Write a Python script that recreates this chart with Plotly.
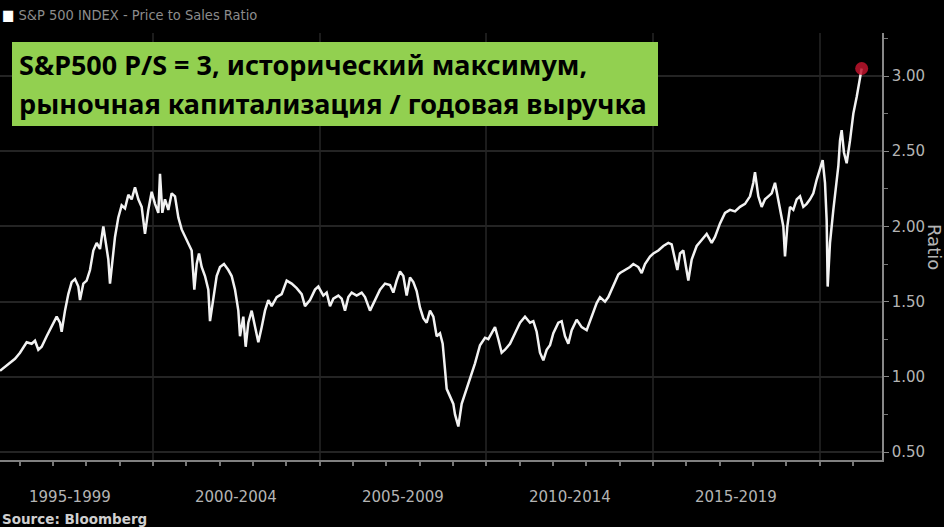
import plotly.graph_objects as go

# ---- data (decimal year, P/S ratio) ----
years = [1995.41, 1995.71, 1995.86, 1996.01, 1996.11, 1996.21, 1996.36, 1996.46, 1996.56, 1996.66,
         1996.81, 1996.96, 1997.11, 1997.21, 1997.26, 1997.36, 1997.46, 1997.56, 1997.66, 1997.76,
         1997.81, 1997.91, 1998.01, 1998.11, 1998.21, 1998.31, 1998.41, 1998.51, 1998.56, 1998.66,
         1998.71, 1998.79, 1998.86, 1998.96, 1999.06, 1999.16, 1999.26, 1999.36, 1999.46, 1999.56,
         1999.66, 1999.76, 1999.86, 1999.96, 2000.06, 2000.16, 2000.21, 2000.28, 2000.36, 2000.46,
         2000.56, 2000.66, 2000.76, 2000.86, 2000.96, 2001.06, 2001.16, 2001.24, 2001.31, 2001.38,
         2001.46, 2001.56, 2001.66, 2001.71, 2001.81, 2001.91, 2002.01, 2002.13, 2002.26, 2002.36,
         2002.46, 2002.56, 2002.61, 2002.71, 2002.78, 2002.86, 2002.96, 2003.06, 2003.16, 2003.26,
         2003.36, 2003.46, 2003.56, 2003.71, 2003.86, 2004.01, 2004.16, 2004.31, 2004.46, 2004.56,
         2004.71, 2004.86, 2004.96,
         2005.11, 2005.21, 2005.31, 2005.41, 2005.56, 2005.66, 2005.76, 2005.86, 2005.96, 2006.11,
         2006.26, 2006.36, 2006.51, 2006.66, 2006.81, 2006.96, 2007.11, 2007.21, 2007.31, 2007.41,
         2007.51, 2007.61, 2007.71, 2007.81, 2007.91, 2008.01, 2008.11, 2008.21, 2008.31, 2008.41,
         2008.51, 2008.61, 2008.69, 2008.76, 2008.81, 2008.91, 2009.01, 2009.06, 2009.16, 2009.26,
         2009.36, 2009.51, 2009.66, 2009.81, 2009.96, 2010.06, 2010.16, 2010.26, 2010.36, 2010.46,
         2010.56, 2010.71, 2010.86, 2011.01, 2011.16, 2011.31, 2011.41, 2011.51, 2011.61, 2011.71,
         2011.81, 2011.91, 2012.01, 2012.16, 2012.26, 2012.36, 2012.46, 2012.56, 2012.71, 2012.86,
         2013.01, 2013.16, 2013.31, 2013.41, 2013.56, 2013.66, 2013.81, 2013.96,
         2014.01, 2014.16, 2014.31, 2014.41, 2014.56, 2014.66, 2014.76, 2014.91, 2015.01, 2015.16,
         2015.31, 2015.46, 2015.56, 2015.66, 2015.73, 2015.81, 2015.91, 2015.99, 2016.06, 2016.16,
         2016.31, 2016.46, 2016.61, 2016.76, 2016.86, 2017.01, 2017.16, 2017.31, 2017.46, 2017.61,
         2017.76, 2017.91, 2018.01, 2018.06, 2018.16, 2018.26, 2018.36, 2018.46, 2018.56, 2018.66,
         2018.76, 2018.86, 2018.91, 2018.96, 2019.03, 2019.11, 2019.21, 2019.31, 2019.41, 2019.51,
         2019.61, 2019.71, 2019.81, 2019.91, 2020.01, 2020.09, 2020.16, 2020.21, 2020.24, 2020.31,
         2020.41, 2020.49, 2020.56, 2020.61, 2020.66, 2020.73, 2020.81, 2020.91, 2021.01, 2021.11,
         2021.19, 2021.26]
ratio = [1.04, 1.09, 1.12, 1.16, 1.20, 1.23, 1.22, 1.24, 1.18, 1.20,
         1.27, 1.33, 1.40, 1.36, 1.30, 1.44, 1.55, 1.63, 1.65, 1.60,
         1.51, 1.62, 1.64, 1.71, 1.84, 1.89, 1.85, 2.00, 1.93, 1.78,
         1.62, 1.80, 1.93, 2.06, 2.14, 2.12, 2.21, 2.18, 2.26, 2.18,
         2.13, 1.95, 2.11, 2.23, 2.15, 2.09, 2.35, 2.09, 2.18, 2.11,
         2.22, 2.20, 2.06, 1.98, 1.93, 1.89, 1.84, 1.58, 1.75, 1.82,
         1.73, 1.67, 1.58, 1.37, 1.53, 1.67, 1.73, 1.75, 1.71, 1.67,
         1.58, 1.44, 1.27, 1.40, 1.20, 1.36, 1.44, 1.33, 1.23, 1.33,
         1.44, 1.51, 1.47, 1.53, 1.55, 1.64, 1.62, 1.59, 1.55, 1.47,
         1.51, 1.58, 1.60,
         1.54, 1.56, 1.47, 1.52, 1.54, 1.52, 1.44, 1.53, 1.56, 1.54,
         1.56, 1.53, 1.44, 1.51, 1.58, 1.62, 1.61, 1.56, 1.64, 1.70,
         1.67, 1.54, 1.66, 1.63, 1.57, 1.46, 1.39, 1.36, 1.44, 1.40,
         1.27, 1.29, 1.22, 1.05, 0.92, 0.87, 0.82, 0.75, 0.67, 0.82,
         0.89, 0.98, 1.09, 1.21, 1.26, 1.25, 1.29, 1.33, 1.25, 1.16,
         1.18, 1.22, 1.29, 1.36, 1.40, 1.36, 1.37, 1.30, 1.16, 1.11,
         1.18, 1.21, 1.29, 1.36, 1.37, 1.27, 1.22, 1.31, 1.38, 1.33,
         1.31, 1.40, 1.49, 1.53, 1.50, 1.53, 1.60, 1.68,
         1.69, 1.71, 1.73, 1.75, 1.73, 1.69, 1.75, 1.80, 1.82, 1.84,
         1.87, 1.89, 1.88, 1.78, 1.71, 1.82, 1.84, 1.73, 1.64, 1.78,
         1.87, 1.91, 1.95, 1.89, 1.93, 2.02, 2.09, 2.11, 2.10, 2.13,
         2.15, 2.20, 2.29, 2.36, 2.20, 2.13, 2.18, 2.20, 2.22, 2.29,
         2.18, 2.06, 2.00, 1.80, 2.00, 2.13, 2.11, 2.18, 2.20, 2.13,
         2.15, 2.18, 2.22, 2.31, 2.38, 2.44, 2.29, 2.04, 1.60, 1.89,
         2.11, 2.26, 2.40, 2.57, 2.64, 2.49, 2.42, 2.57, 2.75, 2.86,
         2.95, 3.05]

period_starts = [1995, 2000, 2005, 2010, 2015]
period_labels = ["1995-1999", "2000-2004", "2005-2009", "2010-2014", "2015-2019"]
boundaries = [2000, 2005, 2010, 2015, 2020]
minor_years = list(range(1996, 2022))
y_ticks = [0.5, 1.0, 1.5, 2.0, 2.5, 3.0]
y_ticktext = ["0.50", "1.00", "1.50", "2.00", "2.50", "3.00"]
y_minor = [0.75, 1.25, 1.75, 2.25, 2.75, 3.25]

title_text = "S&P 500 INDEX - Price to Sales Ratio"
box_line1 = "S&P500 P/S = 3, исторический максимум,"
box_line2 = "рыночная капитализация / годовая выручка"

# ---- layout geometry in pixels ----
W, H = 944, 527
L, R, T, B = 0, 62, 33, 67
PH = H - T - B


def py(pix):
    return (H - B - pix) / PH


def px(pix):
    return (pix - L) / (W - L - R)


fig = go.Figure()
fig.add_trace(go.Scatter(x=years, y=ratio, mode="lines",
                         line=dict(color="#f2f2f2", width=2.5), hoverinfo="skip"))
fig.add_trace(go.Scatter(x=[years[-1]], y=[ratio[-1]], mode="markers",
                         marker=dict(size=13, color="rgba(190,20,45,0.85)"), hoverinfo="skip"))

axfont = dict(family="DejaVu Sans", size=15, color="#b4b4b4")

fig.update_layout(
    width=W, height=H, showlegend=False,
    paper_bgcolor="black", plot_bgcolor="black",
    margin=dict(l=L, r=R, t=T, b=B, autoexpand=False),
    xaxis=dict(range=[1995.41, 2021.87], showline=True, linecolor="#808080", linewidth=1.5,
               tickvals=boundaries, ticktext=[""] * len(boundaries), ticks="outside",
               ticklen=47, tickcolor="#4a4a4a", tickwidth=1.5,
               showgrid=True, gridcolor="#1c1c1c", gridwidth=1.5, zeroline=False,
               minor=dict(tickvals=minor_years, ticks="outside", ticklen=4,
                          tickcolor="#777", showgrid=False)),
    yaxis=dict(side="right", range=[0.447, 3.286], tickvals=y_ticks, ticktext=y_ticktext,
               ticks="outside", ticklen=5, tickcolor="#888", showline=True,
               linecolor="#888", linewidth=1.5, tickfont=axfont,
               showgrid=True, gridcolor="#242424", gridwidth=1.5, zeroline=False,
               minor=dict(tickvals=y_minor, ticks="outside", ticklen=4,
                          tickcolor="#777", showgrid=False)),
)

annotations = []
for s, lab in zip(period_starts, period_labels):
    annotations.append(dict(x=s + 2.5, xref="x", y=py(497), yref="paper", text=lab,
                            showarrow=False, font=axfont, xanchor="center", yanchor="middle"))
annotations.append(dict(x=px(935), xref="paper", y=py(247), yref="paper", text="Ratio",
                        textangle=90, showarrow=False, font=dict(axfont, size=18),
                        xanchor="center", yanchor="middle"))
annotations.append(dict(x=0, xref="paper", y=py(15), yref="paper", xanchor="left", yanchor="middle",
                        text='<span style="color:#ffffff">■</span> ' + title_text,
                        showarrow=False,
                        font=dict(family="DejaVu Sans Condensed, DejaVu Sans", size=14.5, color="#8c8c8c")))
annotations.append(dict(x=0, xref="paper", y=py(519), yref="paper", xanchor="left", yanchor="middle",
                        text="<b>Source: Bloomberg</b>", showarrow=False,
                        font=dict(family="DejaVu Sans", size=13.5, color="#cfcfcf")))
boxfont = dict(family="Noto Sans", size=27, color="black")
annotations.append(dict(x=px(17), xref="paper", y=py(65), yref="paper", xanchor="left", yanchor="middle",
                        text="<b>" + box_line1 + "</b>", showarrow=False, font=boxfont))
annotations.append(dict(x=px(17), xref="paper", y=py(104), yref="paper", xanchor="left", yanchor="middle",
                        text="<b>" + box_line2 + "</b>", showarrow=False, font=boxfont))
fig.update_layout(annotations=annotations)

fig.add_shape(type="rect", xref="paper", yref="paper", x0=px(12), x1=px(658), y0=py(126), y1=py(42),
              fillcolor="#92d050", line=dict(width=0), layer="above")

fig.write_html("out.html", config={"displayModeBar": False},
               post_script="document.body.style.margin='0';")
